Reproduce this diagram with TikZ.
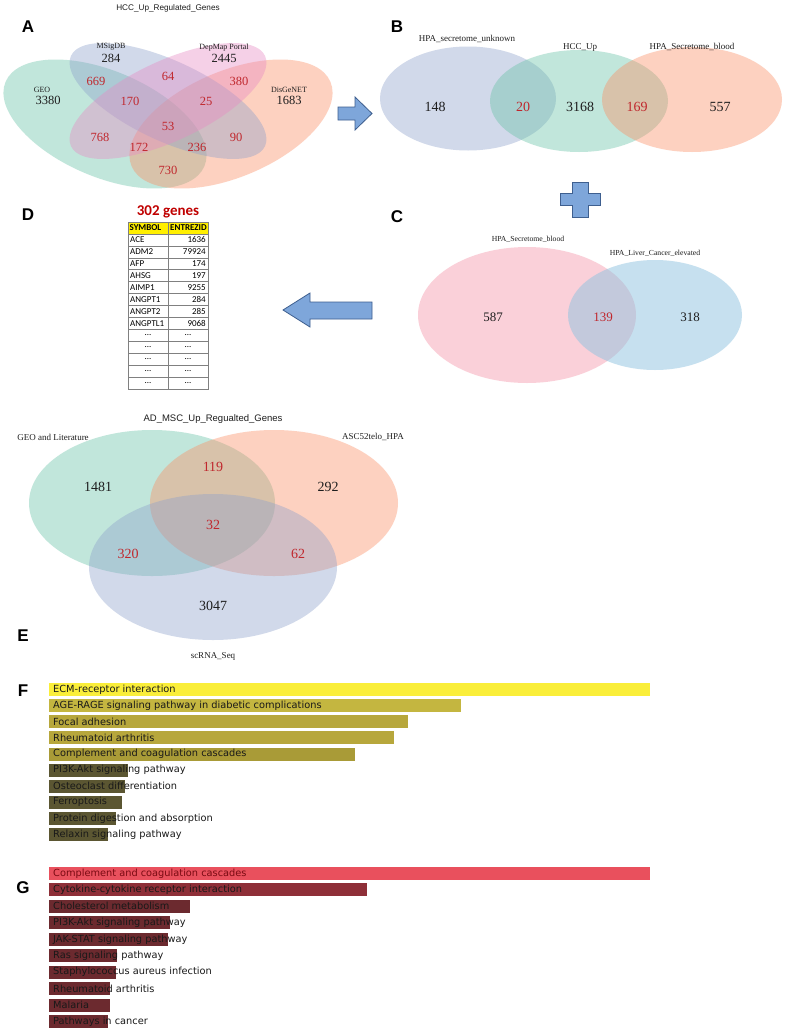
\documentclass[tikz,border=0pt]{standalone}
\usepackage{fontspec}
\setmainfont{Liberation Serif}
\setsansfont{Liberation Sans}
\newfontfamily\tabfont{Carlito}
\newfontfamily\barfont{DejaVu Sans}
\usetikzlibrary{positioning}

\definecolor{vgreen}{HTML}{66C2A5}
\definecolor{vblue}{HTML}{8DA0CB}
\definecolor{vpink}{HTML}{E78AC3}
\definecolor{vorange}{HTML}{FC8D62}
\definecolor{cpink}{HTML}{F7A3B5}
\definecolor{cblue}{HTML}{8EC3E0}
\definecolor{numred}{HTML}{C0272D}
\definecolor{numdark}{HTML}{1E1E1E}
\definecolor{arrfill}{HTML}{7EA6DA}
\definecolor{arrline}{HTML}{3E5F8F}
\definecolor{tabyellow}{HTML}{FFEF00}
\definecolor{genered}{HTML}{C00000}
\definecolor{fbarA}{HTML}{FAEE3A}
\definecolor{fbarB}{HTML}{C4B640}
\definecolor{fbarC}{HTML}{B7A73C}
\definecolor{fbarD}{HTML}{A99B37}
\definecolor{fbarE}{HTML}{5B5632}
\definecolor{gbarA}{HTML}{E9505D}
\definecolor{gbarB}{HTML}{8E2F38}
\definecolor{gbarC}{HTML}{6C2A2F}
\definecolor{gtextA}{HTML}{7A0A12}

\begin{document}
\begin{tikzpicture}[x=1pt,y=1pt]
\tikzstyle{every node}+=[inner sep=0pt]
\tikzstyle{venn}=[fill opacity=0.4]
\tikzstyle{panel}=[font=\sffamily\bfseries\fontsize{17}{18}\selectfont]
\tikzstyle{title}=[font=\sffamily\fontsize{8.2}{9}\selectfont, text=numdark]
\tikzstyle{setlbl}=[font=\fontsize{8}{9}\selectfont, text=numdark]
\tikzstyle{cnt}=[font=\fontsize{12.5}{14}\selectfont, text=numdark]
\tikzstyle{redcnt}=[cnt, text=numred]
\tikzstyle{bigcnt}=[font=\fontsize{14}{16}\selectfont, text=numdark]
\tikzstyle{bigred}=[bigcnt, text=numred]
\tikzstyle{blockarrow}=[fill=arrfill, draw=arrline, line width=0.8pt, line join=miter]
\tikzstyle{tabline}=[draw=black!50, line width=0.5pt]
\tikzstyle{tab}=[font=\tabfont\fontsize{9}{10}\selectfont]
\tikzstyle{tabhead}=[font=\tabfont\bfseries\fontsize{9}{10}\selectfont]
\tikzstyle{barlbl}=[font=\barfont\fontsize{9.8}{11}\selectfont, anchor=west, text=black!90]
\useasboundingbox (0,0) rectangle (789,-1031);
\fill [white] (0,0) rectangle (789,-1031);
\node [title] (titleA) at (168,-8) {HCC\_Up\_Regulated\_Genes};
\node [panel] (lblA) at (28,-27) {A};
\fill [vgreen, venn, rotate around={-23:(105,-124)}] (105,-124) ellipse [x radius=108, y radius=53];
\fill [vorange, venn, rotate around={23:(231,-124)}] (231,-124) ellipse [x radius=108, y radius=53];
\fill [vblue, venn, rotate around={-25:(168,-101)}] (168,-101) ellipse [x radius=107, y radius=40];
\fill [vpink, venn, rotate around={25:(168,-101)}] (168,-101) ellipse [x radius=107, y radius=40];
\node [setlbl] (msig) at (111,-47) {MSigDB};
\node [cnt] (msigN) at (111,-58) {284};
\node [setlbl] (depmap) at (224,-48) {DepMap Portal};
\node [cnt] (depmapN) at (224,-58) {2445};
\node [setlbl] (geo) at (42,-90) {GEO};
\node [cnt] (geoN) at (48,-100) {3380};
\node [setlbl] (disg) at (289,-90) {DisGeNET};
\node [cnt] (disgN) at (289,-100) {1683};
\node [redcnt] (a669) at (96,-81) {669};
\node [redcnt] (a64) at (168,-76) {64};
\node [redcnt] (a380) at (239,-81) {380};
\node [redcnt] (a170) at (130,-101) {170};
\node [redcnt] (a25) at (206,-101) {25};
\node [redcnt] (a53) at (168,-126) {53};
\node [redcnt] (a768) at (100,-137) {768};
\node [redcnt] (a172) at (139,-147) {172};
\node [redcnt] (a236) at (197,-147) {236};
\node [redcnt] (a90) at (236,-137) {90};
\node [redcnt] (a730) at (168,-170) {730};
\filldraw [blockarrow] (338,-107) -- (355,-107) -- (355,-97) -- (372,-113.5) -- (355,-130) -- (355,-120) -- (338,-120) -- cycle;
\node [panel] (lblB) at (397,-27) {B};
\fill [vblue, venn] (468,-98.5) ellipse [x radius=88, y radius=52];
\fill [vgreen, venn] (579,-101) ellipse [x radius=89, y radius=51];
\fill [vorange, venn] (692,-99.5) ellipse [x radius=90, y radius=52.5];
\node [setlbl, font=\fontsize{9}{10}\selectfont] (unknown) at (467,-39) {HPA\_secretome\_unknown};
\node [setlbl, font=\fontsize{9}{10}\selectfont] (hccup) at (580,-47) {HCC\_Up};
\node [setlbl, font=\fontsize{9}{10}\selectfont] (blood) at (692,-47) {HPA\_Secretome\_blood};
\node [bigcnt] (b148) at (435,-107) {148};
\node [bigred] (b20) at (523,-107) {20};
\node [bigcnt] (b3168) at (580,-107) {3168};
\node [bigred] (b169) at (637,-107) {169};
\node [bigcnt] (b557) at (720,-107) {557};
\filldraw [blockarrow] (572,-182) -- (588,-182) -- (588,-193) -- (600,-193) -- (600,-205) -- (588,-205) -- (588,-217) -- (572,-217) -- (572,-205) -- (560,-205) -- (560,-193) -- (572,-193) -- cycle;
\node [panel] (lblC) at (397,-217) {C};
\fill [cpink, fill opacity=0.5] (527,-315) ellipse [x radius=109, y radius=68];
\fill [cblue, fill opacity=0.5] (655,-315) ellipse [x radius=87, y radius=55];
\node [setlbl, font=\fontsize{7.7}{9}\selectfont] (bloodC) at (528,-239) {HPA\_Secretome\_blood};
\node [setlbl, font=\fontsize{7.7}{9}\selectfont] (liver) at (655,-253) {HPA\_Liver\_Cancer\_elevated};
\node [cnt, font=\fontsize{13}{15}\selectfont] (c587) at (493,-317) {587};
\node [redcnt, font=\fontsize{13}{15}\selectfont] (c139) at (603,-317) {139};
\node [cnt, font=\fontsize{13}{15}\selectfont] (c318) at (690,-317) {318};
\filldraw [blockarrow] (372,-302) -- (310,-302) -- (310,-293) -- (283,-310) -- (310,-327) -- (310,-319) -- (372,-319) -- cycle;
\node [panel] (lblD) at (28,-215) {D};
\node [font=\tabfont\bfseries\fontsize{15}{17}\selectfont, text=genered] (genes) at (168,-212) {302 genes};
\fill [tabyellow] (128,-222) rectangle (208,-233.9);
\draw [tabline] (128,-222) rectangle (208,-389);
\draw [tabline] (168,-222) -- (168,-389);
\draw [tabline] (128,-233.9) -- (208,-233.9);
\draw [tabline] (128,-245.9) -- (208,-245.9);
\draw [tabline] (128,-257.8) -- (208,-257.8);
\draw [tabline] (128,-269.7) -- (208,-269.7);
\draw [tabline] (128,-281.6) -- (208,-281.6);
\draw [tabline] (128,-293.6) -- (208,-293.6);
\draw [tabline] (128,-305.5) -- (208,-305.5);
\draw [tabline] (128,-317.4) -- (208,-317.4);
\draw [tabline] (128,-329.4) -- (208,-329.4);
\draw [tabline] (128,-341.3) -- (208,-341.3);
\draw [tabline] (128,-353.2) -- (208,-353.2);
\draw [tabline] (128,-365.1) -- (208,-365.1);
\draw [tabline] (128,-377.1) -- (208,-377.1);
\node [tabhead, anchor=west] (hsym) at (129.5,-228) {SYMBOL};
\node [tabhead, anchor=east] (hid) at (207,-228) {ENTREZID};
\node [tab, anchor=west] (s1) at (130,-239.9) {ACE};
\node [tab, anchor=east] (e1) at (206,-239.9) {1636};
\node [tab, anchor=west] (s2) at (130,-251.8) {ADM2};
\node [tab, anchor=east] (e2) at (206,-251.8) {79924};
\node [tab, anchor=west] (s3) at (130,-263.8) {AFP};
\node [tab, anchor=east] (e3) at (206,-263.8) {174};
\node [tab, anchor=west] (s4) at (130,-275.7) {AHSG};
\node [tab, anchor=east] (e4) at (206,-275.7) {197};
\node [tab, anchor=west] (s5) at (130,-287.6) {AIMP1};
\node [tab, anchor=east] (e5) at (206,-287.6) {9255};
\node [tab, anchor=west] (s6) at (130,-299.5) {ANGPT1};
\node [tab, anchor=east] (e6) at (206,-299.5) {284};
\node [tab, anchor=west] (s7) at (130,-311.5) {ANGPT2};
\node [tab, anchor=east] (e7) at (206,-311.5) {285};
\node [tab, anchor=west] (s8) at (130,-323.4) {ANGPTL1};
\node [tab, anchor=east] (e8) at (206,-323.4) {9068};
\node [tab] (d1) at (148,-335.3) {...};
\node [tab] (f1) at (188,-335.3) {...};
\node [tab] (d2) at (148,-347.3) {...};
\node [tab] (f2) at (188,-347.3) {...};
\node [tab] (d3) at (148,-359.2) {...};
\node [tab] (f3) at (188,-359.2) {...};
\node [tab] (d4) at (148,-371.1) {...};
\node [tab] (f4) at (188,-371.1) {...};
\node [tab] (d5) at (148,-383) {...};
\node [tab] (f5) at (188,-383) {...};
\node [title, font=\sffamily\fontsize{9.5}{11}\selectfont] (titleE) at (213,-419) {AD\_MSC\_Up\_Regualted\_Genes};
\fill [vgreen, venn] (152,-503) ellipse [x radius=123, y radius=73];
\fill [vorange, venn] (274,-503) ellipse [x radius=124, y radius=73];
\fill [vblue, venn] (213,-567) ellipse [x radius=124, y radius=73];
\node [setlbl, font=\fontsize{9}{10}\selectfont] (litE) at (53,-437) {GEO and Literature};
\node [setlbl, font=\fontsize{9}{10}\selectfont] (ascE) at (373,-437) {ASC52telo\_HPA};
\node [setlbl, font=\fontsize{9}{10}\selectfont] (scE) at (213,-656) {scRNA\_Seq};
\node [bigred] (e119) at (213,-467) {119};
\node [bigcnt] (e1481) at (98,-487) {1481};
\node [bigcnt] (e292) at (328,-487) {292};
\node [bigred] (e32) at (213,-525) {32};
\node [bigred] (e320) at (128,-554) {320};
\node [bigred] (e62) at (298,-554) {62};
\node [bigcnt] (e3047) at (213,-606) {3047};
\node [panel] (lblE) at (23,-636) {E};
\node [panel] (lblF) at (23,-691) {F};
\fill [fbarA] (49,-683.2) rectangle (650,-696.2); \node [barlbl] (fA) at (53,-689.7) {ECM-receptor interaction};
\fill [fbarB] (49,-699.3) rectangle (461,-712.3); \node [barlbl] (fB) at (53,-705.8) {AGE-RAGE signaling pathway in diabetic complications};
\fill [fbarC] (49,-715.3) rectangle (408,-728.3); \node [barlbl] (fC) at (53,-721.8) {Focal adhesion};
\fill [fbarC] (49,-731.4) rectangle (394,-744.4); \node [barlbl] (fD) at (53,-737.9) {Rheumatoid arthritis};
\fill [fbarD] (49,-747.5) rectangle (355,-760.5); \node [barlbl] (fE) at (53,-754) {Complement and coagulation cascades};
\fill [fbarE] (49,-763.6) rectangle (128,-776.6); \node [barlbl] (fF) at (53,-770.1) {PI3K-Akt signaling pathway};
\fill [fbarE] (49,-779.6) rectangle (125,-792.6); \node [barlbl] (fG) at (53,-786.1) {Osteoclast differentiation};
\fill [fbarE] (49,-795.7) rectangle (122,-808.7); \node [barlbl] (fH) at (53,-802.2) {Ferroptosis};
\fill [fbarE] (49,-811.8) rectangle (116,-824.8); \node [barlbl] (fI) at (53,-818.3) {Protein digestion and absorption};
\fill [fbarE] (49,-827.8) rectangle (108,-840.8); \node [barlbl] (fJ) at (53,-834.3) {Relaxin signaling pathway};
\node [panel] (lblG) at (23,-888) {G};
\fill [gbarA] (49,-866.8) rectangle (650,-879.8); \node [barlbl, text=gtextA] (gA) at (53,-873.3) {Complement and coagulation cascades};
\fill [gbarB] (49,-883.3) rectangle (367,-896.3); \node [barlbl] (gB) at (53,-889.8) {Cytokine-cytokine receptor interaction};
\fill [gbarC] (49,-899.8) rectangle (190,-912.8); \node [barlbl] (gC) at (53,-906.3) {Cholesterol metabolism};
\fill [gbarC] (49,-916.3) rectangle (170,-929.3); \node [barlbl] (gD) at (53,-922.8) {PI3K-Akt signaling pathway};
\fill [gbarC] (49,-932.8) rectangle (168,-945.8); \node [barlbl] (gE) at (53,-939.3) {JAK-STAT signaling pathway};
\fill [gbarC] (49,-949.3) rectangle (117,-962.3); \node [barlbl] (gF) at (53,-955.8) {Ras signaling pathway};
\fill [gbarC] (49,-965.7) rectangle (116,-978.7); \node [barlbl] (gG) at (53,-972.2) {Staphylococcus aureus infection};
\fill [gbarC] (49,-982.2) rectangle (110,-995.2); \node [barlbl] (gH) at (53,-988.7) {Rheumatoid arthritis};
\fill [gbarC] (49,-998.7) rectangle (110,-1011.7); \node [barlbl] (gI) at (53,-1005.2) {Malaria};
\fill [gbarC] (49,-1015.2) rectangle (108,-1028.2); \node [barlbl] (gJ) at (53,-1021.7) {Pathways in cancer};
\end{tikzpicture}
\end{document}
